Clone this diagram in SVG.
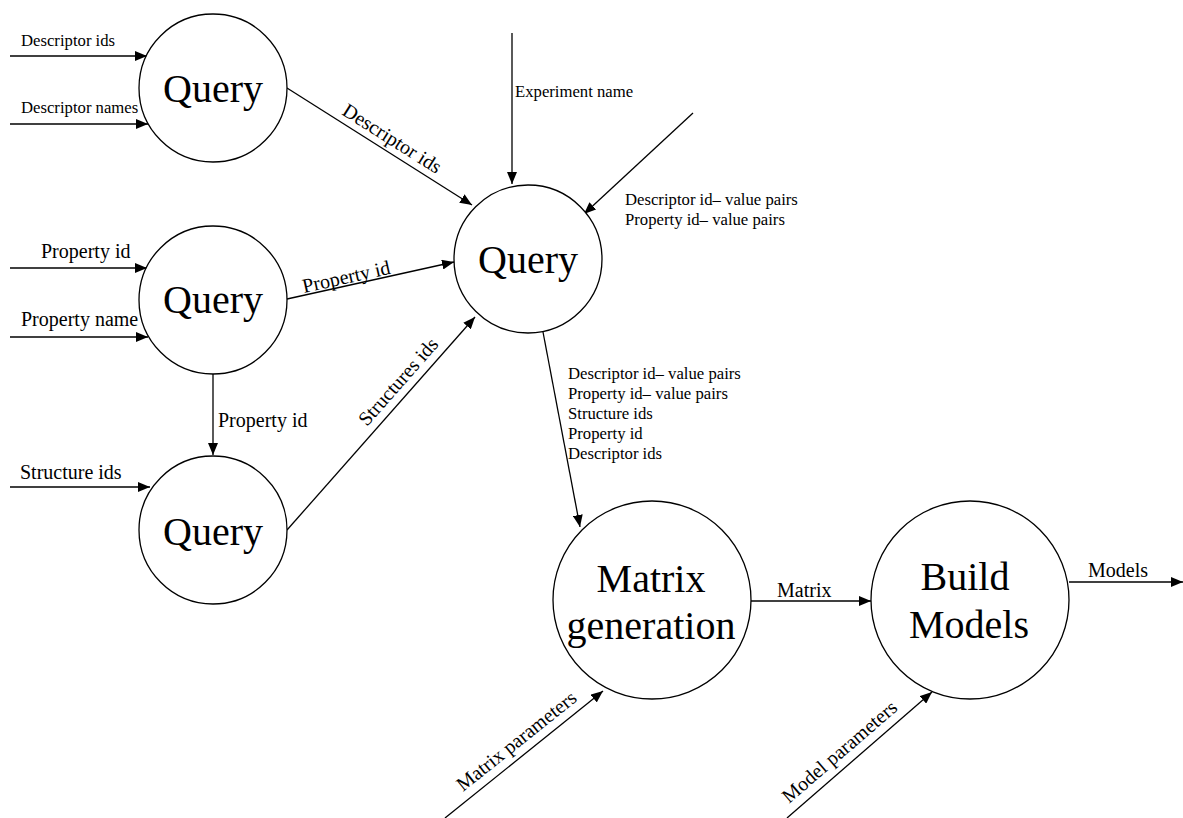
<svg xmlns="http://www.w3.org/2000/svg" width="1183" height="818" viewBox="0 0 1183 818">
  <style>
    .node { fill: #ffffff; stroke: #000000; stroke-width: 1.3; }
    .title { font-family: "Liberation Serif", "Times New Roman", serif; font-size: 40px; fill: #000000; text-anchor: middle; }
    .flow { fill: none; stroke: #000000; stroke-width: 1.3; marker-end: url(#arrow); }
    .lbl { font-family: "Liberation Serif", "Times New Roman", serif; font-size: 20px; fill: #000000; }
    .sm { font-family: "Liberation Serif", "Times New Roman", serif; font-size: 16.7px; fill: #000000; }
  </style>
  <defs>
    <marker id="arrow" viewBox="0 0 12 10" refX="12" refY="5" markerWidth="12" markerHeight="10" markerUnits="userSpaceOnUse" orient="auto">
      <path d="M0,0 L12,5 L0,10 z" fill="#000000"/>
    </marker>
  </defs>
  <rect width="1183" height="818" fill="#ffffff"/>

  <!-- data flows -->
  <g id="connectors">
    <line class="flow" x1="10" y1="56" x2="147" y2="56"/>
    <line class="flow" x1="10" y1="124" x2="148" y2="124"/>
    <line class="flow" x1="10" y1="268" x2="147" y2="268"/>
    <line class="flow" x1="10" y1="337" x2="148" y2="337"/>
    <line class="flow" x1="213" y1="374" x2="213" y2="455"/>
    <line class="flow" x1="10" y1="487" x2="150" y2="487"/>
    <line class="flow" x1="287" y1="88" x2="472" y2="205"/>
    <line class="flow" x1="287" y1="299" x2="454" y2="262"/>
    <line class="flow" x1="287" y1="530" x2="475" y2="317"/>
    <line class="flow" x1="512" y1="33" x2="512" y2="184"/>
    <line class="flow" x1="693" y1="113" x2="584" y2="214"/>
    <line class="flow" x1="543" y1="332" x2="580" y2="527"/>
    <line class="flow" x1="445" y1="818" x2="603" y2="691"/>
    <line class="flow" x1="751" y1="601" x2="871" y2="601"/>
    <line class="flow" x1="787" y1="818" x2="932" y2="692"/>
    <line class="flow" x1="1069" y1="582" x2="1183" y2="582"/>

    <text class="sm" x="21" y="46">Descriptor ids</text>
    <text class="sm" x="21" y="113">Descriptor names</text>
    <text class="lbl" x="41" y="258">Property id</text>
    <text class="lbl" x="21" y="326">Property name</text>
    <text class="lbl" x="218" y="427">Property id</text>
    <text class="lbl" x="20" y="479">Structure ids</text>
    <text class="lbl" x="341" y="114" transform="rotate(32.3 341 114)">Descriptor ids</text>
    <text class="lbl" x="304" y="293" transform="rotate(-12.5 304 293)">Property id</text>
    <text class="lbl" x="367" y="427" transform="rotate(-48.6 367 427)">Structures ids</text>
    <text class="sm" x="515" y="97">Experiment name</text>
    <text class="sm" x="625" y="205">Descriptor id– value pairs</text>
    <text class="sm" x="625" y="225">Property id– value pairs</text>
    <text class="sm" x="568" y="379">Descriptor id– value pairs</text>
    <text class="sm" x="568" y="399">Property id– value pairs</text>
    <text class="sm" x="568" y="419">Structure ids</text>
    <text class="sm" x="568" y="439">Property id</text>
    <text class="sm" x="568" y="459">Descriptor ids</text>
    <text class="lbl" x="463" y="792" transform="rotate(-38.6 463 792)">Matrix parameters</text>
    <text class="lbl" x="777" y="597">Matrix</text>
    <text class="lbl" x="789" y="804" transform="rotate(-40.8 789 804)">Model parameters</text>
    <text class="lbl" x="1088" y="577">Models</text>
  </g>

  <!-- processes -->
  <g id="query-descriptors">
    <circle class="node" cx="213" cy="88" r="74"/>
    <text class="title" x="213" y="102">Query</text>
  </g>
  <g id="query-property">
    <circle class="node" cx="213" cy="300" r="74"/>
    <text class="title" x="213" y="313">Query</text>
  </g>
  <g id="query-structures">
    <circle class="node" cx="213" cy="530" r="74"/>
    <text class="title" x="213" y="545">Query</text>
  </g>
  <g id="query-values">
    <circle class="node" cx="528" cy="259" r="74"/>
    <text class="title" x="528" y="273">Query</text>
  </g>
  <g id="matrix-generation">
    <circle class="node" cx="652" cy="600" r="99"/>
    <text class="title" x="651" y="592">Matrix</text>
    <text class="title" x="651" y="639">generation</text>
  </g>
  <g id="build-models">
    <circle class="node" cx="970" cy="600" r="99"/>
    <text class="title" x="965" y="590">Build</text>
    <text class="title" x="969" y="638">Models</text>
  </g>
</svg>
